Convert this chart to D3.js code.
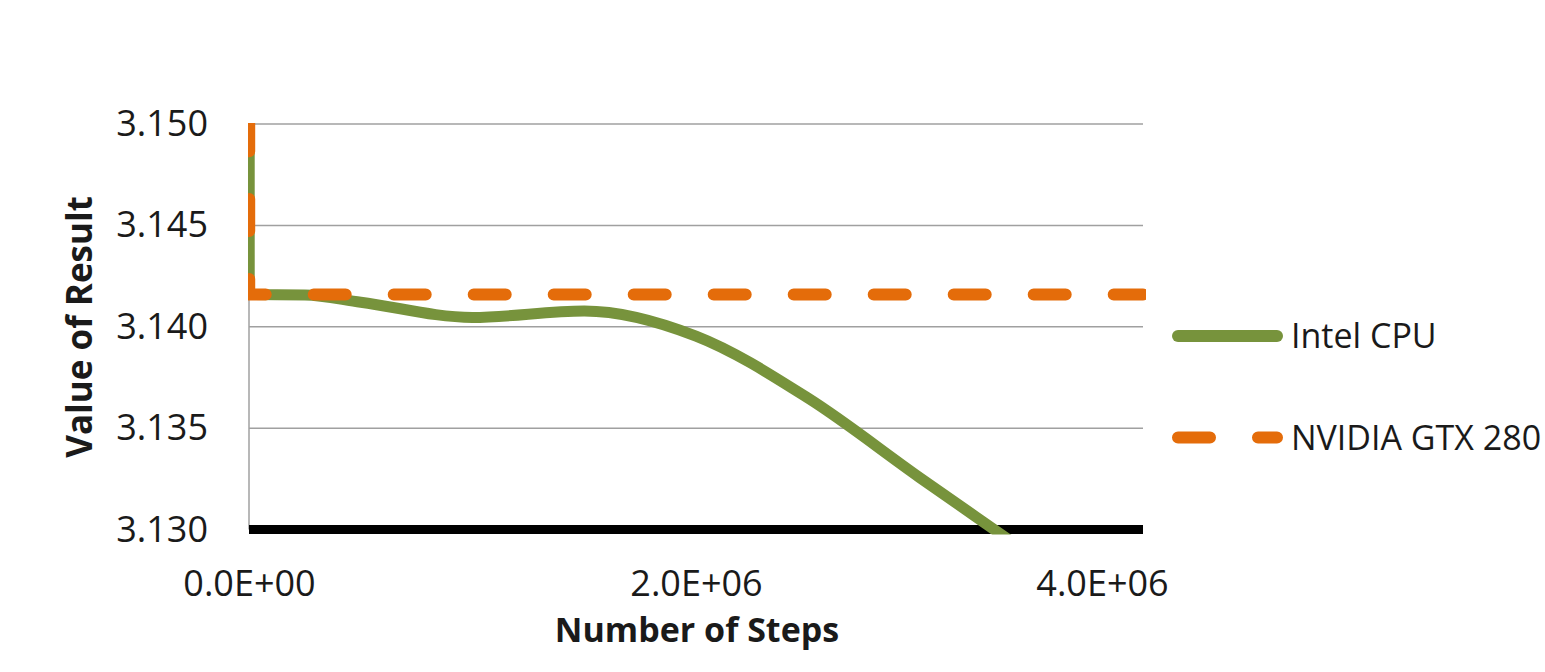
<!DOCTYPE html>
<html>
<head>
<meta charset="utf-8">
<script src="https://cdn.jsdelivr.net/npm/d3@7/dist/d3.min.js"></script>
<style>
  html, body { margin: 0; padding: 0; background: #ffffff; }
  svg { display: block; }
  text { font-family: "Open Sans", "Noto Sans", sans-serif; fill: #1a1a1a; }
</style>
</head>
<body>
<svg id="chart" width="1545" height="672"></svg>
<script>
// Number of steps at which the result was sampled
const steps = [0, 1000, 250000, 500000, 1000000, 1500000, 2000000, 2500000, 3000000, 3500000, 4000000];
// Computed value of pi for each device
const intelCPU     = [4.0, 3.14159, 3.14157, 3.14121, 3.14046, 3.14078, 3.13954, 3.13649, 3.13257, 3.12872, 3.12480];
const nvidiaGTX280 = [4.0, 3.14159, 3.14159, 3.14159, 3.14159, 3.14159, 3.14159, 3.14159, 3.14159, 3.14159, 3.14159];

const seriesNames = ["Intel CPU", "NVIDIA GTX 280"];
const yTicks = [3.130, 3.135, 3.140, 3.145, 3.150];
const xTicks = [0, 2000000, 4000000];
const xTickLabels = ["0.0E+00", "2.0E+06", "4.0E+06"];

const GREEN = "#77933c";
const ORANGE = "#e46c0a";

const svg = d3.select("#chart");

const x = d3.scaleLinear().domain([0, 4000000]).range([249, 1143]);
const y = d3.scaleLinear().domain([3.130, 3.150]).range([529.5, 124]);

// horizontal gridlines
svg.append("g")
  .selectAll("line")
  .data(yTicks.slice(1))
  .join("line")
  .attr("x1", x(0)).attr("x2", x(4000000))
  .attr("y1", d => y(d)).attr("y2", d => y(d))
  .attr("stroke", "#a0a0a0").attr("stroke-width", 1.5);

// vertical axis line
svg.append("line")
  .attr("x1", x(0)).attr("x2", x(0))
  .attr("y1", y(3.150)).attr("y2", y(3.130))
  .attr("stroke", "#a0a0a0").attr("stroke-width", 1.5);

// y tick labels
const yAxis = d3.axisLeft(y).tickValues(yTicks).tickFormat(d3.format(".3f")).tickSize(0).tickPadding(41);
const gy = svg.append("g").attr("transform", `translate(${x(0)},0)`).call(yAxis);
gy.select(".domain").remove();
gy.selectAll("text").style("font-size", "36px").attr("fill", "#1a1a1a")
  .style("font-family", "'Open Sans', sans-serif");

// x tick labels
const xAxis = d3.axisBottom(x).tickValues(xTicks).tickFormat((d, i) => xTickLabels[i]).tickSize(0).tickPadding(0);
const gx = svg.append("g").attr("transform", `translate(0,${y(3.130)})`).call(xAxis);
gx.select(".domain").remove();
gx.selectAll("text")
  .style("font-size", "36px").attr("fill", "#1a1a1a")
  .style("font-family", "'Open Sans', sans-serif")
  .attr("y", 66.5).attr("dy", null)
  .attr("dx", (d, i) => i === xTicks.length - 1 ? -41 : 0);

// heavy horizontal axis line at the bottom of the plot
svg.append("line")
  .attr("x1", x(0)).attr("x2", x(4000000))
  .attr("y1", y(3.130)).attr("y2", y(3.130))
  .attr("stroke", "#000").attr("stroke-width", 9);

// plot clip
svg.append("defs").append("clipPath").attr("id", "plotClip")
  .append("rect")
  .attr("x", x(0) - 1).attr("y", y(3.150) - 1)
  .attr("width", x(4000000) - x(0) + 4)
  .attr("height", y(3.130) - y(3.150) + 6);

const line = d3.line().curve(d3.curveMonotoneX)
  .x((d, i) => x(steps[i]))
  .y(d => y(d));

const plot = svg.append("g").attr("clip-path", "url(#plotClip)");

plot.append("path")
  .attr("d", line(intelCPU))
  .attr("fill", "none")
  .attr("stroke", GREEN)
  .attr("stroke-width", 11)
  .attr("stroke-linejoin", "round");

// dashed GPU line; dash phase chosen so a dash is in progress where it enters the plot
const dashOn = 32, dashOff = 48, period = dashOn + dashOff;
const lenToTop = y(3.150) - y(nvidiaGTX280[0]);
const phase = (((5 - lenToTop) % period) + period) % period;
plot.append("path")
  .attr("d", line(nvidiaGTX280))
  .attr("fill", "none")
  .attr("stroke", ORANGE)
  .attr("stroke-width", 12)
  .attr("stroke-linecap", "round")
  .attr("stroke-linejoin", "round")
  .attr("stroke-dasharray", `${dashOn},${dashOff}`)
  .attr("stroke-dashoffset", phase);

// axis titles
svg.append("text")
  .attr("transform", "translate(92,327) rotate(-90)")
  .attr("text-anchor", "middle")
  .style("font-size", "35px").style("font-weight", "bold")
  .text("Value of Result");

svg.append("text")
  .attr("x", 697).attr("y", 642)
  .attr("text-anchor", "middle")
  .style("font-size", "34px").style("font-weight", "bold")
  .text("Number of Steps");

// legend
const legend = svg.append("g");
const legendRows = [
  { name: seriesNames[0], color: GREEN, dash: null, cy: 336 },
  { name: seriesNames[1], color: ORANGE, dash: `${dashOn},${dashOff}`, cy: 437.5 }
];
legendRows.forEach(r => {
  legend.append("line")
    .attr("x1", 1178).attr("x2", 1277)
    .attr("y1", r.cy).attr("y2", r.cy)
    .attr("stroke", r.color).attr("stroke-width", 12)
    .attr("stroke-linecap", "round")
    .attr("stroke-dasharray", r.dash);
  legend.append("text")
    .attr("x", 1291).attr("y", r.cy + 12)
    .style("font-size", "34px")
    .text(r.name);
});
</script>
</body>
</html>
